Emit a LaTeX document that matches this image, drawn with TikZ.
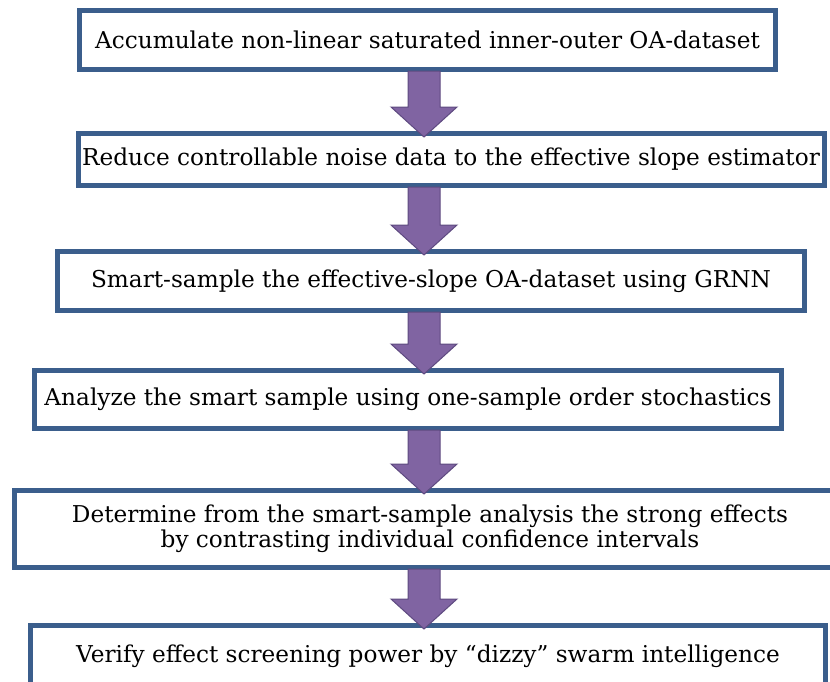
\documentclass[tikz,border=0pt]{standalone}
\usepackage{fontspec}
\setmainfont{DejaVu Serif}
\usetikzlibrary{calc}
\definecolor{boxline}{HTML}{3B5E8C}
\definecolor{arrowfill}{HTML}{8064A2}
\definecolor{arrowline}{HTML}{5E4A80}

\begin{document}
\begin{tikzpicture}[x=1pt,y=-1pt,
    stage/.style={draw=boxline, line width=5pt, rectangle, inner sep=0pt, align=center,
      font=\fontsize{23.2}{25}\selectfont},
    fatarrow/.style={fill=arrowfill, draw=arrowline, line width=1pt, line join=miter}]
  \clip (0,0) rectangle (830,681);
  \coordinate (axis) at (424,0);

  \node[stage, minimum width=696pt, minimum height=59pt] (accum) at (427.5,40)
    {Accumulate non-linear saturated inner-outer OA-dataset};
  \node[stage, minimum width=746pt, minimum height=52pt] (reduce) at (451,159.5)
    {Reduce controllable noise data to the effective slope estimator};
  \node[stage, minimum width=747pt, minimum height=59pt] (smart) at (431,281)
    {Smart-sample the effective-slope OA-dataset using GRNN};
  \node[stage, minimum width=747pt, minimum height=58pt] (analyze) at (408,399.5)
    {Analyze the smart sample using one-sample order stochastics};
  \node[stage, minimum width=831pt, minimum height=77pt] (determine) at (430,529)
    {Determine from the smart-sample analysis the strong effects\\
     by contrasting individual confidence intervals};
  \node[stage, minimum width=795pt, minimum height=62pt] (verify) at (428,656.5)
    {Verify effect screening power by “dizzy” swarm intelligence};

  \foreach \a/\b in {accum/reduce, reduce/smart, smart/analyze, analyze/determine, determine/verify} {
    \draw[fatarrow] let \p1=(\a.south -| axis), \p2=(\b.north -| axis) in
      (\x1-16pt,\y1+1pt) -- (\x1+16pt,\y1+1pt) -- (\x1+16pt,\y2+24pt) -- (\x1+33pt,\y2+24pt)
      -- (\x2,\y2-6pt) -- (\x1-33pt,\y2+24pt) -- (\x1-16pt,\y2+24pt) -- cycle;
  }
\end{tikzpicture}
\end{document}
